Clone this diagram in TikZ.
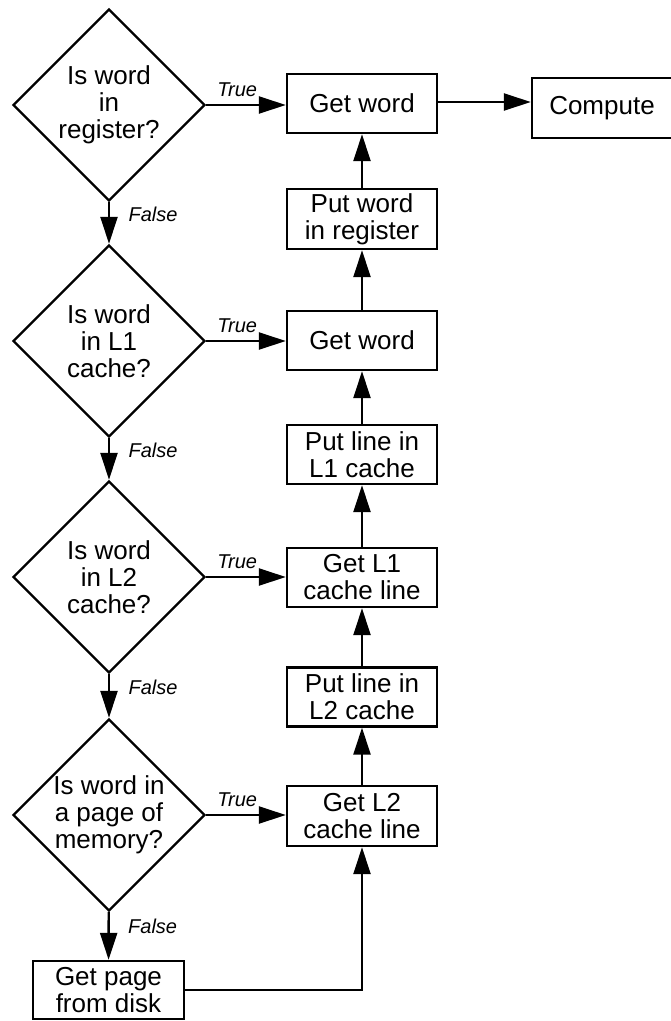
\documentclass[tikz,border=0pt]{standalone}
\usepackage{fontspec}
\setmainfont{Liberation Sans}
\usetikzlibrary{shapes.geometric,arrows.meta}
\tikzset{
  decision/.style={draw, diamond, aspect=1, inner sep=0pt, minimum width=192pt, minimum height=192pt, align=center, font=\fontsize{26}{27}\selectfont},
  process/.style={draw, rectangle, minimum width=150pt, minimum height=59pt, inner sep=0pt, align=center, font=\fontsize{26}{27}\selectfont},
  flow/.style={-{Triangle[length=27pt,width=17pt]}},
  truelbl/.style={font=\fontsize{20}{22}\selectfont\itshape, anchor=base, yshift=9pt, pos=0.39},
  falselbl/.style={font=\fontsize{20}{22}\selectfont\itshape, anchor=west, xshift=15pt, pos=0.3}
}
\begin{document}
\begin{tikzpicture}[x=1pt, y=-1pt, line width=2.4pt]
\useasboundingbox (0,0) rectangle (670,1021);
% checks on the left
\node[decision] (reg) at (109,105) {Is word\\in\\register?};
\node[decision] (lone) at (109,341) {Is word\\in L1\\cache?};
\node[decision] (ltwo) at (109,577) {Is word\\in L2\\cache?};
\node[decision] (mem) at (109,815) {Is word in\\a page of\\memory?};
\node[process, minimum width=151pt, minimum height=58pt] (disk) at (108.5,990) {Get page\\from disk};
% steps on the right
\node[process] (getw) at (362,103.5) {Get word};
\node[process, minimum height=60pt] (putreg) at (362,219) {Put word\\in register};
\node[process] (getwl) at (362,340.5) {Get word};
\node[process] (putlone) at (362,454.5) {Put line in\\L1 cache};
\node[process] (getlone) at (362,577.5) {Get L1\\cache line};
\node[process] (putltwo) at (362,697) {Put line in\\L2 cache};
\node[process, minimum height=60pt] (getltwo) at (362,816) {Get L2\\cache line};
\node[process, minimum width=140pt, minimum height=60pt] (comp) at (602,108) {Compute};

% false branches
\draw[flow] (reg) -- node[falselbl]{False} (lone);
\draw[flow] (lone) -- node[falselbl]{False} (ltwo);
\draw[flow] (ltwo) -- node[falselbl]{False} (mem);
\draw[flow] (mem) -- node[falselbl]{False} (disk);
% true branches
\draw[flow] (reg.east) -- node[truelbl]{True} (reg.east -| getw.west);
\draw[flow] (lone.east) -- node[truelbl]{True} (lone.east -| getwl.west);
\draw[flow] (ltwo.east) -- node[truelbl]{True} (ltwo.east -| getlone.west);
\draw[flow] (mem.east) -- node[truelbl]{True} (mem.east -| getltwo.west);
% filling back up
\draw[flow] (disk.east) -| (getltwo);
\draw[flow] (getltwo) -- (putltwo);
\draw[flow] (putltwo) -- (getlone);
\draw[flow] (getlone) -- (putlone);
\draw[flow] (putlone) -- (getwl);
\draw[flow] (getwl) -- (putreg);
\draw[flow] (putreg) -- (getw);
\draw[flow] ([yshift=1.5pt]getw.east) -- ([yshift=1.5pt]getw.east -| comp.west);
\end{tikzpicture}
\end{document}
